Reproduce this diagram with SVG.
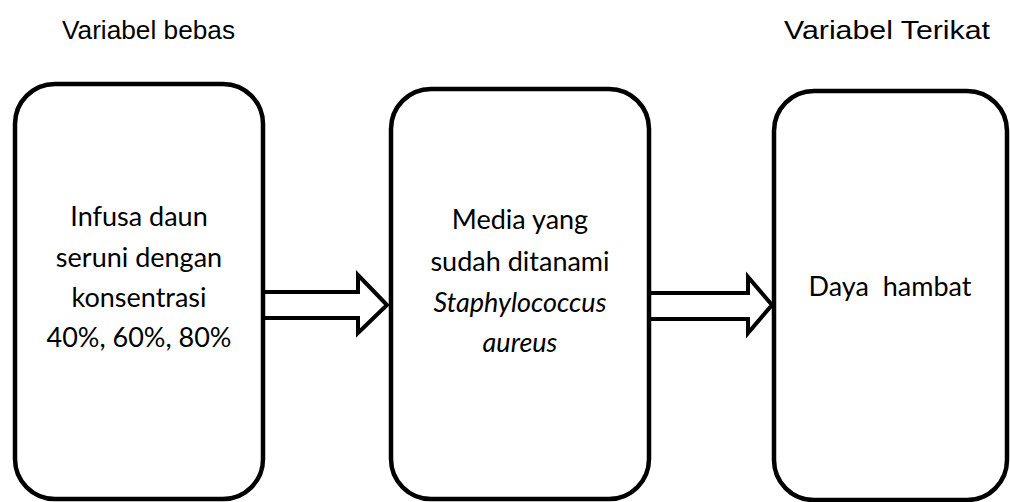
<svg xmlns="http://www.w3.org/2000/svg" width="1010" height="502" viewBox="0 0 1010 502">
<style>
.box{fill:#fff;stroke:#000;stroke-width:4.5}
.arrow{fill:#fff;stroke:#000;stroke-width:4;stroke-linejoin:miter}
.hdr{font-family:"Liberation Sans",Arial,sans-serif;font-size:25px;fill:#000}
.lbl{font-family:Lato,"Open Sans",sans-serif;font-size:27px;fill:#000;text-anchor:middle;white-space:pre}
.it{font-style:italic}
</style>
<rect width="1010" height="502" fill="#fff"/>
<g id="headers">
<text class="hdr" x="62" y="39" textLength="173" lengthAdjust="spacingAndGlyphs">Variabel bebas</text>
<text class="hdr" x="784" y="39" textLength="206" lengthAdjust="spacingAndGlyphs">Variabel Terikat</text>
</g>
<g id="connectors">
<path class="arrow" d="M263,292 H358 V275 L387,305 L358,333 V318 H263 Z"/>
<path class="arrow" d="M649,293 H748 V277 L772,305 L748,333 V319 H649 Z"/>
</g>
<g id="node-infusa">
<rect class="box" x="15" y="84" width="248" height="415" rx="40" ry="40"/>
<text class="lbl" x="139" y="226">Infusa daun</text>
<text class="lbl" x="139" y="267">seruni dengan</text>
<text class="lbl" x="139" y="307">konsentrasi</text>
<text class="lbl" x="139" y="347">40%, 60%, 80%</text>
</g>
<g id="node-media">
<rect class="box" x="391" y="89" width="258" height="410" rx="40" ry="40"/>
<text class="lbl" x="520" y="229">Media yang</text>
<text class="lbl" x="520" y="271">sudah ditanami</text>
<text class="lbl it" x="520" y="312">Staphylococcus</text>
<text class="lbl it" x="520" y="352">aureus</text>
</g>
<g id="node-daya">
<rect class="box" x="774" y="91" width="233" height="409" rx="40" ry="40"/>
<text class="lbl" x="890" y="296">Daya  hambat</text>
</g>
</svg>
